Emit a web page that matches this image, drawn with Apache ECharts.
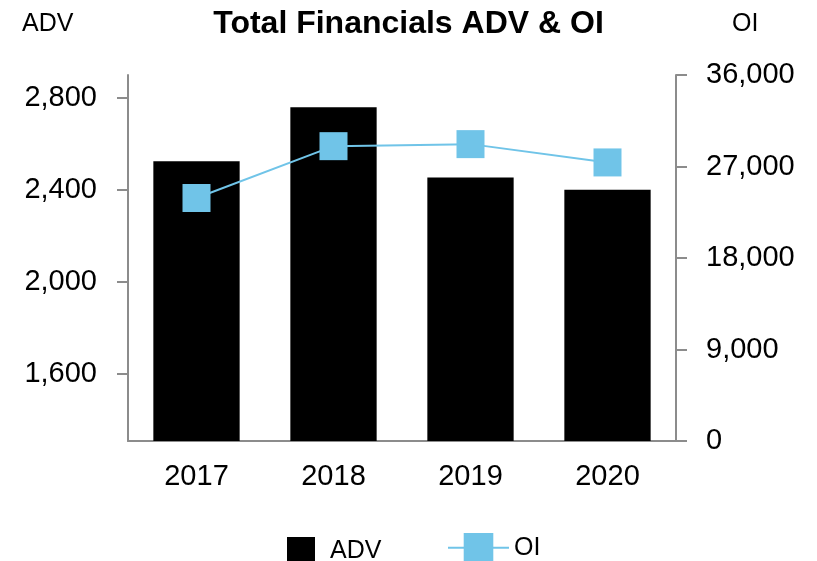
<!DOCTYPE html>
<html>
<head>
<meta charset="utf-8">
<script src="https://cdn.jsdelivr.net/npm/echarts@6/dist/echarts.min.js"></script>
<style>
  html, body { margin: 0; padding: 0; background: #fff; }
  #chart { width: 817px; height: 561px; }
</style>
</head>
<body>
<div id="chart"></div>
<script>
const years = ["2017", "2018", "2019", "2020"];
const advValues = [2525, 2760, 2455, 2402];
const oiValues = [23900, 29000, 29200, 27400];
const advTicks = [1600, 2000, 2400, 2800];

const axisGray = "#8c8c8c";
const oiBlue = "#70c4e8";
const font = "Liberation Sans";

const chart = echarts.init(document.getElementById("chart"));

const fmt = (v) => v.toLocaleString("en-US");

const option = {
  animation: false,
  textStyle: { fontFamily: font },
  title: [
    {
      text: "Total Financials ADV & OI",
      left: "center",
      top: 3,
      textStyle: { fontSize: 32, fontWeight: "bold", color: "#000", fontFamily: font },
    },
    {
      text: "ADV",
      left: 17,
      top: 7,
      textStyle: { fontSize: 25, fontWeight: "normal", color: "#000", fontFamily: font },
    },
    {
      text: "OI",
      left: 727,
      top: 7,
      textStyle: { fontSize: 25, fontWeight: "normal", color: "#000", fontFamily: font },
    },
  ],
  grid: { left: 128, right: 141, top: 75, bottom: 120, containLabel: false },
  legend: [
    {
      data: ["ADV"],
      icon: "rect",
      left: 282,
      top: 532,
      itemWidth: 28,
      itemHeight: 28,
      textStyle: { fontSize: 25, color: "#000", fontFamily: font, padding: [0, 0, 0, 10] },
    },
    {
      data: ["OI"],
      left: 442,
      top: 528,
      itemWidth: 61,
      itemHeight: 37,
      textStyle: { fontSize: 25, color: "#000", fontFamily: font },
    },
  ],
  xAxis: {
    type: "category",
    data: years,
    axisLine: { lineStyle: { color: axisGray, width: 2 } },
    axisTick: { alignWithLabel: true, length: 10, lineStyle: { color: axisGray, width: 2 } },
    axisLabel: { fontSize: 29, color: "#000", margin: 21, fontFamily: font },
  },
  yAxis: [
    {
      type: "value",
      min: 1310,
      max: 2900,
      splitLine: { show: false },
      axisLine: { show: true, lineStyle: { color: axisGray, width: 2 } },
      axisTick: { show: true, length: 11, customValues: advTicks, lineStyle: { color: axisGray, width: 2 } },
      axisLabel: { fontSize: 29, color: "#000", margin: 31, customValues: advTicks, formatter: fmt, fontFamily: font },
    },
    {
      type: "value",
      min: 0,
      max: 36000,
      interval: 9000,
      splitLine: { show: false },
      axisLine: { show: true, lineStyle: { color: axisGray, width: 2 } },
      axisTick: { show: true, length: 11, lineStyle: { color: axisGray, width: 2 } },
      axisLabel: { fontSize: 29, color: "#000", margin: 30, formatter: fmt, fontFamily: font },
    },
  ],
  series: [
    {
      name: "ADV",
      type: "bar",
      yAxisIndex: 0,
      data: advValues,
      barWidth: "63%",
      itemStyle: { color: "#000" },
    },
    {
      name: "OI",
      type: "line",
      yAxisIndex: 1,
      data: oiValues,
      symbol: "rect",
      symbolSize: 28,
      itemStyle: { color: oiBlue },
      lineStyle: { color: oiBlue, width: 2 },
    },
  ],
};

chart.setOption(option);
</script>
</body>
</html>
